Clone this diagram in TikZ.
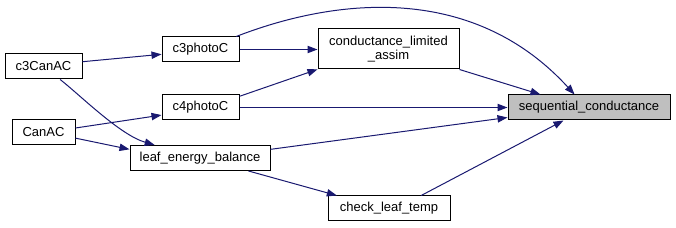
\documentclass[tikz,border=0pt]{standalone}
\usepackage{fontspec}
\setmainfont{Liberation Sans}
\usetikzlibrary{arrows.meta}
\definecolor{edgeblue}{HTML}{191970}
\definecolor{focusgray}{HTML}{BFBFBF}
\begin{document}
\begin{tikzpicture}[
        x=0.75pt, y=-0.75pt,
        func/.style={rectangle, draw=black, line width=0.75pt, fill=white, align=center, minimum height=18.75pt, inner sep=1pt, font=\fontsize{9.75}{10.5}\selectfont},
        focus/.style={func, fill=focusgray},
        arrow/.style={-{Triangle[length=7.5pt, width=5.5pt]}, color=edgeblue, line width=0.75pt}
    ]
        \useasboundingbox (0,0) rectangle (676,228);
        \node (seqcond) [focus, minimum width=121.5pt] at (589,107.5) {sequential\_conductance};
        \node (condlim) [func, minimum width=105.75pt, minimum height=30pt] at (388.5,49) {conductance\_limited\\\_assim};
        \node (checktemp) [func, minimum width=91.5pt] at (389,208.5) {check\_leaf\_temp};
        \node (c3photo) [func, minimum width=57.75pt] at (200.5,49.5) {c3photoC};
        \node (c4photo) [func, minimum width=57.75pt] at (200.5,107.5) {c4photoC};
        \node (leafeb) [func, minimum width=105pt] at (200,158) {leaf\_energy\_balance};
        \node (c3canac) [func, minimum width=57.75pt] at (43.5,66.5) {c3CanAC};
        \node (canac) [func, minimum width=47.25pt] at (43.5,132.5) {CanAC};
        \draw [arrow] (c3photo.east) -- (c3photo.east -| condlim.west);
        \draw [arrow] (c4photo.16) -- (condlim.196);
        \draw [arrow] (c3photo.20) .. controls (330,0) and (470,-20) .. (seqcond.138);
        \draw [arrow] (condlim.south east) -- (seqcond.165);
        \draw [arrow] (c4photo.east) -- (seqcond.west);
        \draw [arrow] (leafeb.7) -- (seqcond.187);
        \draw [arrow] (checktemp.22) -- (seqcond.207);
        \draw [arrow] (c3canac.7) -- (c3photo.187);
        \draw [arrow] (c3canac.-38) .. controls (80,95) and (120,135) .. (leafeb.164);
        \draw [arrow] (canac.8) -- (c4photo.191);
        \draw [arrow] (canac.-10) -- (leafeb.173);
        \draw [arrow] (leafeb.-15) -- (checktemp.166);
    \end{tikzpicture}
\end{document}
